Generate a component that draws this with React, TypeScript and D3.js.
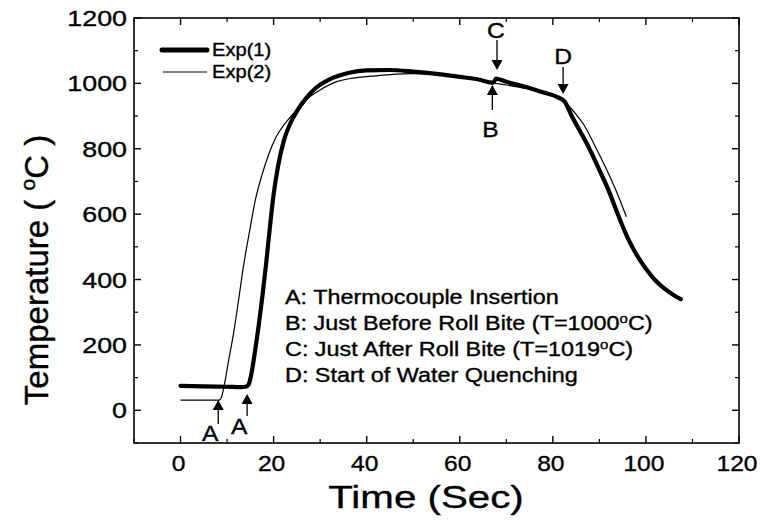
import React from "react";
import * as d3 from "d3";

// ---- data ----
const exp1Time = [0, 5, 10, 13, 14, 14.6, 15.2, 16, 16.8, 17.6, 18.4, 19.2, 20, 21, 22.2, 23.5, 25, 27, 29, 32, 36, 40, 45, 50, 55, 60, 64, 67.2, 67.8, 68.6, 70, 74, 78, 81, 82.5, 84, 86, 88, 90, 92, 94, 96, 98, 100, 102, 104, 106, 107.5];
const exp1Temp = [75, 73, 72, 71, 72, 78, 110, 180, 260, 350, 450, 560, 660, 750, 825, 875, 915, 955, 985, 1012, 1032, 1040, 1041, 1036, 1029, 1020, 1012, 1002, 1015, 1012, 1005, 990, 972, 958, 945, 902, 850, 796, 735, 672, 598, 530, 476, 433, 398, 372, 352, 340];

const exp2Time = [0, 5, 8.3, 8.8, 9.3, 10.3, 11.4, 12.5, 13.5, 14.8, 16.1, 17.5, 19, 20.5, 22.6, 24.7, 27, 30, 33.7, 37, 41, 45, 50, 55, 60, 65, 67, 70, 74, 78, 81, 82, 83.5, 85, 86.6, 89, 91.6, 94, 95.8];
const exp2Temp = [31, 31, 31, 40, 70, 150, 236, 340, 439, 545, 645, 720, 785, 835, 880, 915, 950, 980, 1006, 1016, 1022, 1027, 1030, 1027, 1018, 1008, 1002, 995, 985, 970, 957, 952, 930, 905, 875, 810, 735, 658, 592];

const seriesNames = ["Exp(1)", "Exp(2)"];
const xTicks = [0, 20, 40, 60, 80, 100, 120];
const xMinorTicks = [-10, 10, 30, 50, 70, 90, 110];
const yTicks = [0, 200, 400, 600, 800, 1000, 1200];
const yMinorTicks = [-100, 100, 300, 500, 700, 900, 1100];

// annotation markers
const markerLabels = ["A", "A", "B", "C", "D"];
const markerTimes = [8.1, 14.3, 67.0, 68.0, 82.2];
const notes = [
  "A: Thermocouple Insertion",
  "B: Just Before Roll Bite (T=1000",
  "C: Just After Roll Bite (T=1019",
  "D: Start of Water Quenching",
];

const FONT = "'Liberation Sans', Arial, Helvetica, sans-serif";

const ST = ({ x, y, sx = 1, anchor = "start", size, children }: any) => (
  <text
    transform={`translate(${x},${y}) scale(${sx},1)`}
    textAnchor={anchor}
    fontSize={size}
    fontFamily={FONT}
    fill="#000"
    stroke="#000"
    strokeWidth={0.35}
  >
    {children}
  </text>
);

const Arrow = ({ x, tipY, dir, stem, head = 10, hw = 5.5 }: any) => {
  const baseY = tipY - dir * head;
  const endY = baseY - dir * stem;
  return (
    <g>
      <line x1={x} x2={x} y1={endY} y2={baseY} stroke="#000" strokeWidth={1.3} />
      <path d={`M${x},${tipY} L${x - hw},${baseY} L${x + hw},${baseY} Z`} fill="#000" />
    </g>
  );
};

export default function App() {
  const W = 763, H = 523;
  const left = 134, right = 739, top = 18, bottom = 443;
  const x = d3.scaleLinear().domain([-10, 120]).range([left, right]);
  const y = d3.scaleLinear().domain([-100, 1200]).range([bottom, top]);

  const line = d3
    .line<[number, number]>()
    .x((d) => x(d[0]))
    .y((d) => y(d[1]))
    .curve(d3.curveMonotoneX);

  const d1 = line(exp1Time.map((t, i) => [t, exp1Temp[i]]) as [number, number][]) || "";
  const d2 = line(exp2Time.map((t, i) => [t, exp2Temp[i]]) as [number, number][]) || "";

  const majorLen = 7, minorLen = 4;

  return (
    <svg width={W} height={H} style={{ position: "absolute", left: 0, top: 0, background: "#fff" }}>
      <rect x={0} y={0} width={W} height={H} fill="#fff" />
      {/* series */}
      <path d={d2} fill="none" stroke="#000" strokeWidth={1.2} />
      <path d={d1} fill="none" stroke="#000" strokeWidth={4.2} strokeLinejoin="round" strokeLinecap="round" />

      {/* frame */}
      <rect x={left} y={top} width={right - left} height={bottom - top} fill="none" stroke="#000" strokeWidth={1.6} />

      {/* x ticks bottom & top */}
      {xTicks.map((t) => (
        <g key={"xt" + t}>
          <line x1={x(t)} x2={x(t)} y1={bottom} y2={bottom - majorLen} stroke="#000" strokeWidth={1.4} />
          <line x1={x(t)} x2={x(t)} y1={top} y2={top + majorLen} stroke="#000" strokeWidth={1.4} />
          <ST x={x(t) - 2} y={471} sx={1.12} anchor="middle" size={22}>{t}</ST>
        </g>
      ))}
      {xMinorTicks.map((t) => (
        <g key={"xm" + t}>
          <line x1={x(t)} x2={x(t)} y1={bottom} y2={bottom - minorLen} stroke="#000" strokeWidth={1.2} />
          <line x1={x(t)} x2={x(t)} y1={top} y2={top + minorLen} stroke="#000" strokeWidth={1.2} />
        </g>
      ))}

      {/* y ticks left & right */}
      {yTicks.map((v) => (
        <g key={"yt" + v}>
          <line x1={left} x2={left + majorLen} y1={y(v)} y2={y(v)} stroke="#000" strokeWidth={1.4} />
          <line x1={right} x2={right - majorLen} y1={y(v)} y2={y(v)} stroke="#000" strokeWidth={1.4} />
          <ST x={127} y={y(v) + 8} sx={1.22} anchor="end" size={22}>{v}</ST>
        </g>
      ))}
      {yMinorTicks.map((v) => (
        <g key={"ym" + v}>
          <line x1={left} x2={left + minorLen} y1={y(v)} y2={y(v)} stroke="#000" strokeWidth={1.2} />
          <line x1={right} x2={right - minorLen} y1={y(v)} y2={y(v)} stroke="#000" strokeWidth={1.2} />
        </g>
      ))}

      {/* axis titles */}
      <ST x={426} y={508} sx={1.26} anchor="middle" size={32}>Time (Sec)</ST>
      <text
        transform="translate(48,270) rotate(-90)"
        textAnchor="middle"
        fontSize={33}
        fontFamily={FONT}
        fill="#000"
        stroke="#000"
        strokeWidth={0.35}
      >
        Temperature ( <tspan fontSize={21} dy={-13}>o</tspan><tspan dy={13}>C )</tspan>
      </text>

      {/* legend */}
      <line x1={162} x2={207} y1={50} y2={50} stroke="#000" strokeWidth={5} strokeLinecap="round" />
      <ST x={212} y={56} sx={1.15} size={17.5}>{seriesNames[0]}</ST>
      <line x1={163} x2={207} y1={72} y2={72} stroke="#000" strokeWidth={1.2} />
      <ST x={212} y={78} sx={1.15} size={17.5}>{seriesNames[1]}</ST>

      {/* markers */}
      <Arrow x={x(markerTimes[0])} tipY={400} dir={-1} stem={14} />
      <ST x={x(markerTimes[0]) - 8} y={441} sx={1.12} anchor="middle" size={22}>{markerLabels[0]}</ST>
      <Arrow x={x(markerTimes[1])} tipY={394} dir={-1} stem={12} />
      <ST x={x(markerTimes[1]) - 8} y={434} sx={1.12} anchor="middle" size={22}>{markerLabels[1]}</ST>

      <Arrow x={x(markerTimes[2])} tipY={85} dir={-1} stem={15} />
      <ST x={x(markerTimes[2]) - 2} y={137} sx={1.12} anchor="middle" size={22}>{markerLabels[2]}</ST>
      <Arrow x={x(markerTimes[3])} tipY={70} dir={1} stem={20} />
      <ST x={x(markerTimes[3]) - 1} y={38} sx={1.12} anchor="middle" size={22}>{markerLabels[3]}</ST>
      <Arrow x={x(markerTimes[4])} tipY={94} dir={1} stem={17} />
      <ST x={x(markerTimes[4])} y={64} sx={1.12} anchor="middle" size={22}>{markerLabels[4]}</ST>

      {/* notes */}
      <ST x={285} y={304} sx={1.2} size={19.5}>{notes[0]}</ST>
      <ST x={285} y={330} sx={1.2} size={19.5}>
        {notes[1]}<tspan fontSize={12.5} dy={-7}>o</tspan><tspan dy={7}>C)</tspan>
      </ST>
      <ST x={285} y={356} sx={1.2} size={19.5}>
        {notes[2]}<tspan fontSize={12.5} dy={-7}>o</tspan><tspan dy={7}>C)</tspan>
      </ST>
      <ST x={285} y={382} sx={1.2} size={19.5}>{notes[3]}</ST>
    </svg>
  );
}
